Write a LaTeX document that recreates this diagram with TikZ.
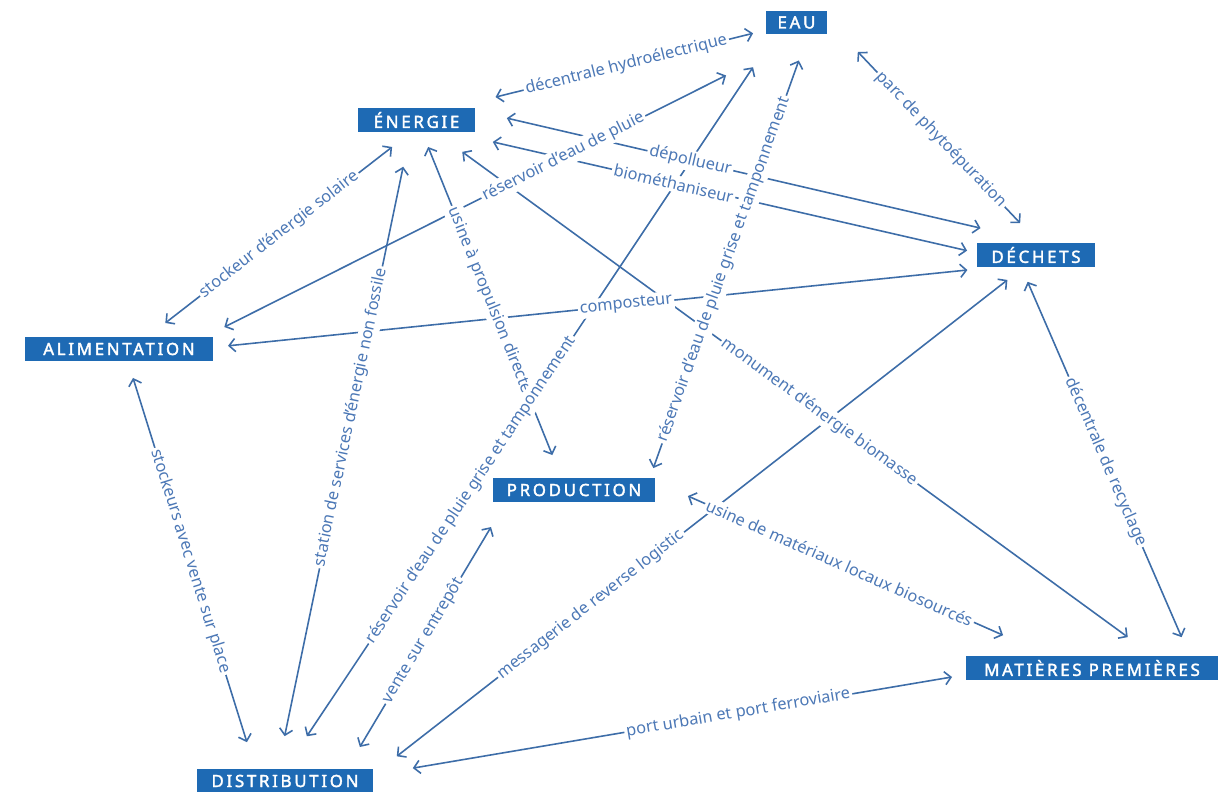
\documentclass[tikz,border=0pt]{standalone}
\usepackage{fontspec}
\setmainfont{Noto Sans}
\newfontfamily\tagfont{Noto Sans}[LetterSpace=16, FakeBold=2]
\usetikzlibrary{arrows.meta}

\definecolor{tagblue}{HTML}{1E6AB4}
\definecolor{linkblue}{HTML}{3D6DA8}
\definecolor{lblblue}{HTML}{4C78B6}

% from/to anchor, shorten at start/end (pt), label pos, label
\def\links{%
  energie.19.4/eau.-166.5/25.9/7.6/.556/décentrale hydroélectrique,
  energie.-113/alimentation.23.3/13.9/13.0/.5/stockeur d'énergie solaire,
  alimentation.8.4/eau.-47.6/12.7/52.0/.595/réservoir d'eau de pluie,
  energie.9.1/dechets.54.7/18.6/37.5/.378/dépollueur,
  energie.-20.6/dechets.178.3/25.3/5.8/.425/biométhaniseur,
  energie.-117.7/distribution.121.7/20.2/19.1/.448/station de services d'énergie non fossile,
  energie.-65.4/production.136.6/9.2/14.1/.486/usine à propulsion directe,
  energie.-33.4/matieres.11.5/19.2/18.3/.535/monument d'énergie biomasse,
  eau.6/dechets.76.4/25.5/15.6/.538/parc de phytoépuration,
  eau.-151.9/distribution.90/22.4/22.4/.62/réservoir d'eau de pluie grise et tamponnement,
  eau.-46.5/production.9.4/15.7/6.0/.53/réservoir d'eau de pluie grise et tamponnement,
  alimentation.-54.4/distribution.158.9/10.1/16.0/.491/stockeurs avec vente sur place,
  distribution.11.6/production.-170.8/14.6/16.6/.481/vente sur entrepôt,
  distribution.4.7/dechets.-135.7/17.2/12.0/.335/messagerie de reverse logistic,
  distribution.4.7/matieres.-177.9/23.0/8.1/.616/port urbain et port ferroviaire,
  production.6.8/matieres.164.4/20.5/29.3/.467/usine de matériaux locaux biosourcés,
  dechets.-141.9/matieres.7.5/9.2/11.7/.501/décentrale de recyclage,
  alimentation.1.5/dechets.-163.1/8.6/16.8/.527/composteur}

\begin{document}
\begin{tikzpicture}[x=0.02cm, y=-0.02cm]
    \tikzstyle{tag} = [rectangle, fill=tagblue, text=white, inner sep=0pt,
        outer sep=0pt, minimum height=0.48cm,
        font=\tagfont\fontsize{9.6}{10}\selectfont]
    \tikzstyle{link} = [draw=linkblue, line width=0.9pt, <->,
        >={Straight Barb[length=3.5pt,width=7.5pt]}]
    \tikzstyle{lbl} = [sloped, fill=white, text=lblblue, inner sep=1.2pt,
        font=\fontsize{9.3}{11}\selectfont]

    \fill[white] (0,0) rectangle (1229,791);
    \useasboundingbox (0,0) rectangle (1229,791);

    % Domains
    \node[tag, minimum width=1.22cm] (eau) at (796.5,22.5) {EAU};
    \node[tag, minimum width=2.34cm] (energie) at (416.5,120) {ÉNERGIE};
    \node[tag, minimum width=2.36cm] (dechets) at (1036,255) {DÉCHETS};
    \node[tag, minimum width=3.76cm] (alimentation) at (119,349) {ALIMENTATION};
    \node[tag, minimum width=3.24cm] (production) at (574,490) {PRODUCTION};
    \node[tag, minimum width=5.04cm] (matieres) at (1092,668) {MATIÈRES PREMIÈRES};
    \node[tag, minimum width=3.52cm] (distribution) at (285,781) {DISTRIBUTION};

    % Links first, then their labels on top
    \foreach \from/\to/\sa/\sb/\p/\txt in \links
        \draw[link, shorten <=\sa pt, shorten >=\sb pt] (\from) -- (\to);
    \foreach \from/\to/\sa/\sb/\p/\txt in \links
        \path (\from) -- node[lbl, pos=\p] {\txt} (\to);
\end{tikzpicture}
\end{document}
